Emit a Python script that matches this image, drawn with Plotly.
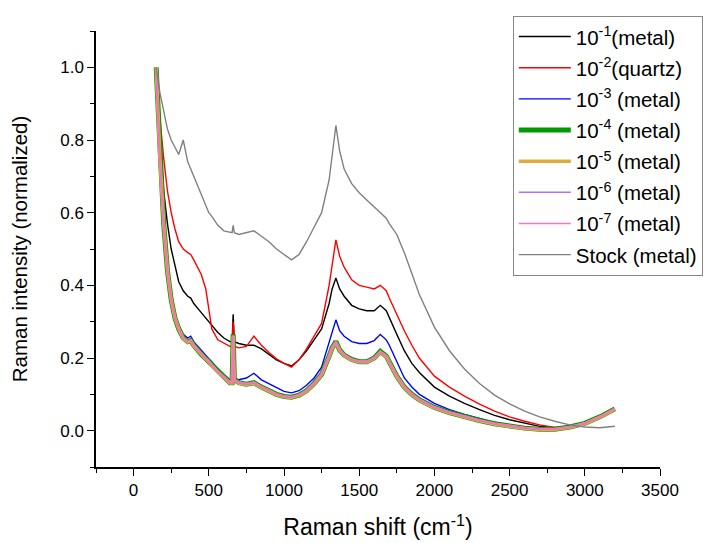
import plotly.graph_objects as go

# Raman shift grid (cm^-1)
shift = [150, 175, 200, 225, 250, 275, 300, 330, 360, 380, 400, 450, 480, 500, 520,
         560, 600, 640, 655, 662, 670, 700, 750, 800, 850, 900, 950, 1000, 1050, 1100,
         1150, 1200, 1250, 1300, 1320, 1345, 1370, 1400, 1450, 1500, 1550, 1600, 1640,
         1680, 1700, 1750, 1800, 1850, 1900, 2000, 2100, 2200, 2300, 2400, 2500, 2600,
         2700, 2800, 2900, 3000, 3100, 3200]

y_e1 = [1.00, 0.80, 0.66, 0.57, 0.50, 0.45, 0.41, 0.385, 0.37, 0.365, 0.35, 0.325, 0.31, 0.30, 0.29,
        0.27, 0.255, 0.245, 0.245, 0.32, 0.245, 0.24, 0.235, 0.235, 0.225, 0.21, 0.195, 0.185, 0.178, 0.195,
        0.22, 0.25, 0.28, 0.35, 0.39, 0.42, 0.39, 0.37, 0.345, 0.335, 0.33, 0.33, 0.345,
        0.33, 0.31, 0.265, 0.22, 0.185, 0.16, 0.12, 0.095, 0.075, 0.058, 0.042, 0.03, 0.02,
        0.012, 0.008, 0.012, 0.022, 0.038, 0.058]

y_e2 = [1.00, 0.86, 0.75, 0.66, 0.60, 0.555, 0.52, 0.50, 0.49, 0.485, 0.47, 0.43, 0.39, 0.34, 0.28,
        0.25, 0.24, 0.232, 0.232, 0.30, 0.232, 0.228, 0.232, 0.26, 0.235, 0.215, 0.198, 0.185, 0.175, 0.195,
        0.225, 0.26, 0.295, 0.40, 0.46, 0.525, 0.48, 0.45, 0.415, 0.40, 0.395, 0.39, 0.40,
        0.385, 0.365, 0.32, 0.275, 0.235, 0.20, 0.15, 0.12, 0.095, 0.073, 0.054, 0.038, 0.026,
        0.016, 0.009, 0.012, 0.022, 0.038, 0.058]

y_e3 = [1.00, 0.76, 0.58, 0.45, 0.37, 0.32, 0.29, 0.265, 0.255, 0.26, 0.245, 0.22, 0.205, 0.198, 0.19,
        0.17, 0.155, 0.14, 0.14, 0.26, 0.145, 0.14, 0.145, 0.158, 0.14, 0.13, 0.118, 0.108, 0.104, 0.11,
        0.125, 0.145, 0.175, 0.24, 0.27, 0.305, 0.275, 0.26, 0.245, 0.24, 0.24, 0.248, 0.265,
        0.25, 0.235, 0.19, 0.145, 0.12, 0.10, 0.075, 0.058, 0.045, 0.033, 0.023, 0.015, 0.009,
        0.005, 0.004, 0.01, 0.02, 0.038, 0.058]

y_e4 = [1.00, 0.75, 0.57, 0.44, 0.36, 0.31, 0.28, 0.255, 0.245, 0.248, 0.235, 0.21, 0.198, 0.19, 0.18,
        0.162, 0.148, 0.132, 0.132, 0.265, 0.14, 0.132, 0.128, 0.132, 0.12, 0.11, 0.1, 0.094, 0.092, 0.098,
        0.11, 0.13, 0.155, 0.205, 0.228, 0.245, 0.222, 0.208, 0.196, 0.19, 0.19, 0.2, 0.218,
        0.205, 0.188, 0.15, 0.12, 0.1, 0.085, 0.064, 0.05, 0.038, 0.028, 0.019, 0.012, 0.007,
        0.004, 0.004, 0.01, 0.02, 0.038, 0.06]

y_e5 = [1.00, 0.75, 0.57, 0.44, 0.36, 0.31, 0.28, 0.254, 0.244, 0.247, 0.234, 0.209, 0.197, 0.189, 0.179,
        0.161, 0.147, 0.131, 0.131, 0.262, 0.139, 0.131, 0.127, 0.131, 0.119, 0.109, 0.099, 0.093, 0.091, 0.097,
        0.109, 0.129, 0.154, 0.204, 0.227, 0.243, 0.221, 0.207, 0.195, 0.189, 0.189, 0.199, 0.216,
        0.204, 0.187, 0.149, 0.119, 0.099, 0.084, 0.063, 0.049, 0.037, 0.027, 0.018, 0.011, 0.006,
        0.003, 0.003, 0.009, 0.019, 0.037, 0.059]

y_e6 = [1.00, 0.75, 0.57, 0.44, 0.36, 0.31, 0.28, 0.255, 0.245, 0.248, 0.235, 0.21, 0.198, 0.19, 0.18,
        0.162, 0.148, 0.132, 0.132, 0.26, 0.14, 0.132, 0.128, 0.132, 0.12, 0.11, 0.1, 0.094, 0.092, 0.098,
        0.11, 0.13, 0.155, 0.205, 0.228, 0.244, 0.222, 0.208, 0.196, 0.19, 0.19, 0.2, 0.217,
        0.205, 0.188, 0.15, 0.12, 0.1, 0.085, 0.064, 0.05, 0.038, 0.028, 0.019, 0.012, 0.007,
        0.004, 0.004, 0.01, 0.02, 0.038, 0.06]

y_e7 = [1.00, 0.75, 0.57, 0.44, 0.36, 0.31, 0.28, 0.256, 0.246, 0.249, 0.236, 0.211, 0.199, 0.191, 0.181,
        0.163, 0.149, 0.133, 0.133, 0.262, 0.141, 0.133, 0.129, 0.133, 0.121, 0.111, 0.101, 0.095, 0.093, 0.099,
        0.111, 0.131, 0.156, 0.206, 0.229, 0.245, 0.223, 0.209, 0.197, 0.191, 0.191, 0.201, 0.218,
        0.206, 0.189, 0.151, 0.121, 0.101, 0.086, 0.065, 0.051, 0.039, 0.029, 0.02, 0.013, 0.008,
        0.005, 0.005, 0.011, 0.021, 0.039, 0.061]

y_stock = [1.00, 0.93, 0.88, 0.83, 0.80, 0.78, 0.76, 0.80, 0.74, 0.72, 0.70, 0.65, 0.62, 0.60, 0.59,
           0.565, 0.55, 0.545, 0.545, 0.565, 0.545, 0.54, 0.545, 0.55, 0.535, 0.52, 0.50, 0.485, 0.47, 0.485,
           0.52, 0.56, 0.60, 0.69, 0.76, 0.84, 0.77, 0.72, 0.68, 0.655, 0.635, 0.615, 0.60,
           0.585, 0.57, 0.54, 0.49, 0.43, 0.375, 0.285, 0.22, 0.17, 0.13, 0.098, 0.074, 0.054,
           0.038, 0.026, 0.016, 0.01, 0.008, 0.012]

series = [
    ("10<sup>-1</sup>(metal)", y_e1, "#000000", 1.4),
    ("10<sup>-2</sup>(quartz)", y_e2, "#FF0000", 1.4),
    ("10<sup>-3</sup> (metal)", y_e3, "#0000FF", 1.4),
    ("10<sup>-4</sup> (metal)", y_e4, "#009900", 5.0),
    ("10<sup>-5</sup> (metal)", y_e5, "#E2AA3A", 3.5),
    ("10<sup>-6</sup> (metal)", y_e6, "#B070FF", 1.6),
    ("10<sup>-7</sup> (metal)", y_e7, "#FF70C0", 1.6),
    ("Stock (metal)", y_stock, "#808080", 1.4),
]

fig = go.Figure()
for i, (name, ys, color, w) in enumerate(series):
    fig.add_trace(go.Scatter(x=shift, y=ys, mode="lines", name=name,
                             legendgroup=f"g{i}",
                             line=dict(color=color, width=w)))

font_family = "Liberation Sans, Arial, sans-serif"
fig.update_layout(
    width=715, height=543,
    margin=dict(l=96, r=55, t=31, b=76),
    plot_bgcolor="white", paper_bgcolor="white",
    font=dict(family=font_family, color="#000000"),
    showlegend=True,
    legend=dict(
        x=0.739, y=1.035, xanchor="left", yanchor="top",
        bgcolor="white", bordercolor="#888888", borderwidth=1,
        font=dict(size=20.5, family=font_family),
        itemwidth=52, tracegroupgap=1.5,
    ),
    xaxis=dict(
        range=[-250, 3500], tick0=0, dtick=500, automargin=False,
        ticks="outside", ticklen=7, tickwidth=1.2, tickcolor="black",
        minor=dict(dtick=250, tick0=0, ticks="outside", ticklen=4, tickcolor="black"),
        showline=True, linecolor="black", linewidth=1.5,
        showgrid=False, zeroline=False,
        tickfont=dict(size=17),
        title=dict(text="Raman shift (cm<sup>-1</sup>)", font=dict(size=23), standoff=20),
    ),
    yaxis=dict(
        range=[-0.1, 1.1], tick0=0, dtick=0.2, tickformat=".1f", automargin=False,
        ticks="outside", ticklen=7, tickwidth=1.2, tickcolor="black",
        minor=dict(dtick=0.1, tick0=0, ticks="outside", ticklen=4, tickcolor="black"),
        showline=True, linecolor="black", linewidth=1.5,
        showgrid=False, zeroline=False,
        tickfont=dict(size=17),
        title=dict(text="Raman intensity (normalized)", font=dict(size=20.5), standoff=27),
    ),
)

fig.write_html("out.html")
